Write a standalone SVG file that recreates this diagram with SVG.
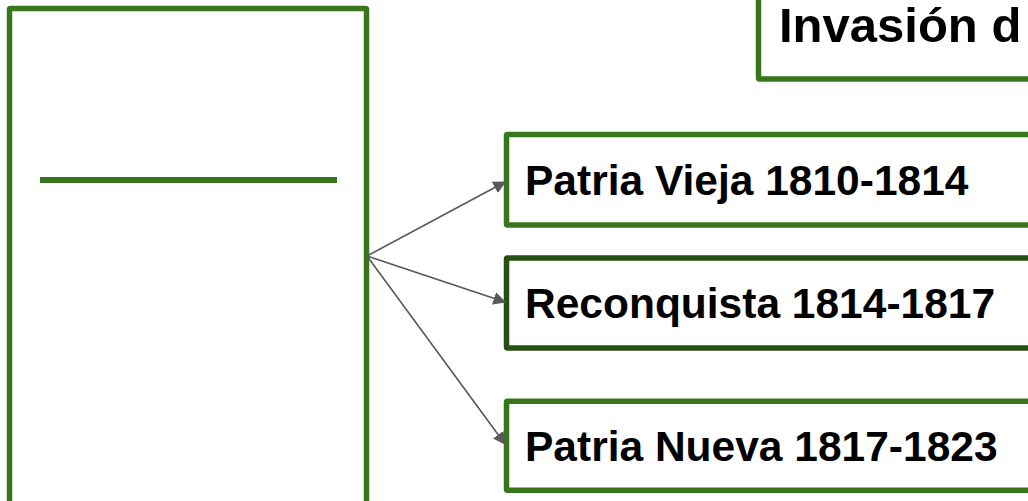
<svg xmlns="http://www.w3.org/2000/svg" width="1028" height="501" viewBox="0 0 1028 501">
  <style>
    .box { fill: #ffffff; stroke: #38761d; stroke-width: 5.5; }
    .box.dark { stroke: #274e13; }
    .lbl { font-family: "Liberation Sans", Arial, sans-serif; font-weight: bold; fill: #000000; }
    .conn { stroke: #595959; stroke-width: 1.6; fill: none; marker-end: url(#arrow); }
  </style>
  <defs>
    <marker id="arrow" viewBox="0 0 10 10" refX="9" refY="5" markerWidth="8" markerHeight="8" markerUnits="strokeWidth" orient="auto">
      <path d="M0,0 L10,5 L0,10 z" fill="#595959"/>
    </marker>
  </defs>
  <rect width="1028" height="501" fill="#ffffff"/>

  <g id="node-main">
    <rect class="box" x="9.5" y="8.5" width="357" height="520" rx="1"/>
    <line x1="40" y1="180" x2="337" y2="180" stroke="#38761d" stroke-width="6"/>
  </g>

  <g id="node-invasion">
    <rect class="box" x="758.5" y="-20" width="300" height="99" rx="1"/>
    <text class="lbl" x="779" y="42" font-size="49">Invasión d</text>
  </g>

  <g id="node-patria-vieja">
    <rect class="box" x="506.5" y="134.5" width="540" height="90.5" rx="1"/>
    <text class="lbl" x="525" y="195" font-size="42.5">Patria Vieja 1810-1814</text>
  </g>

  <g id="node-reconquista">
    <rect class="box dark" x="506.5" y="258" width="540" height="90" rx="1"/>
    <text class="lbl" x="525" y="318" font-size="42.5">Reconquista 1814-1817</text>
  </g>

  <g id="node-patria-nueva">
    <rect class="box" x="506.5" y="401.3" width="540" height="89" rx="1"/>
    <text class="lbl" x="525" y="461" font-size="42.5">Patria Nueva 1817-1823</text>
  </g>

  <g id="connectors">
    <line class="conn" x1="367" y1="256" x2="505" y2="182"/>
    <line class="conn" x1="367" y1="256" x2="505" y2="302"/>
    <line class="conn" x1="367" y1="256" x2="505" y2="444"/>
  </g>
</svg>
